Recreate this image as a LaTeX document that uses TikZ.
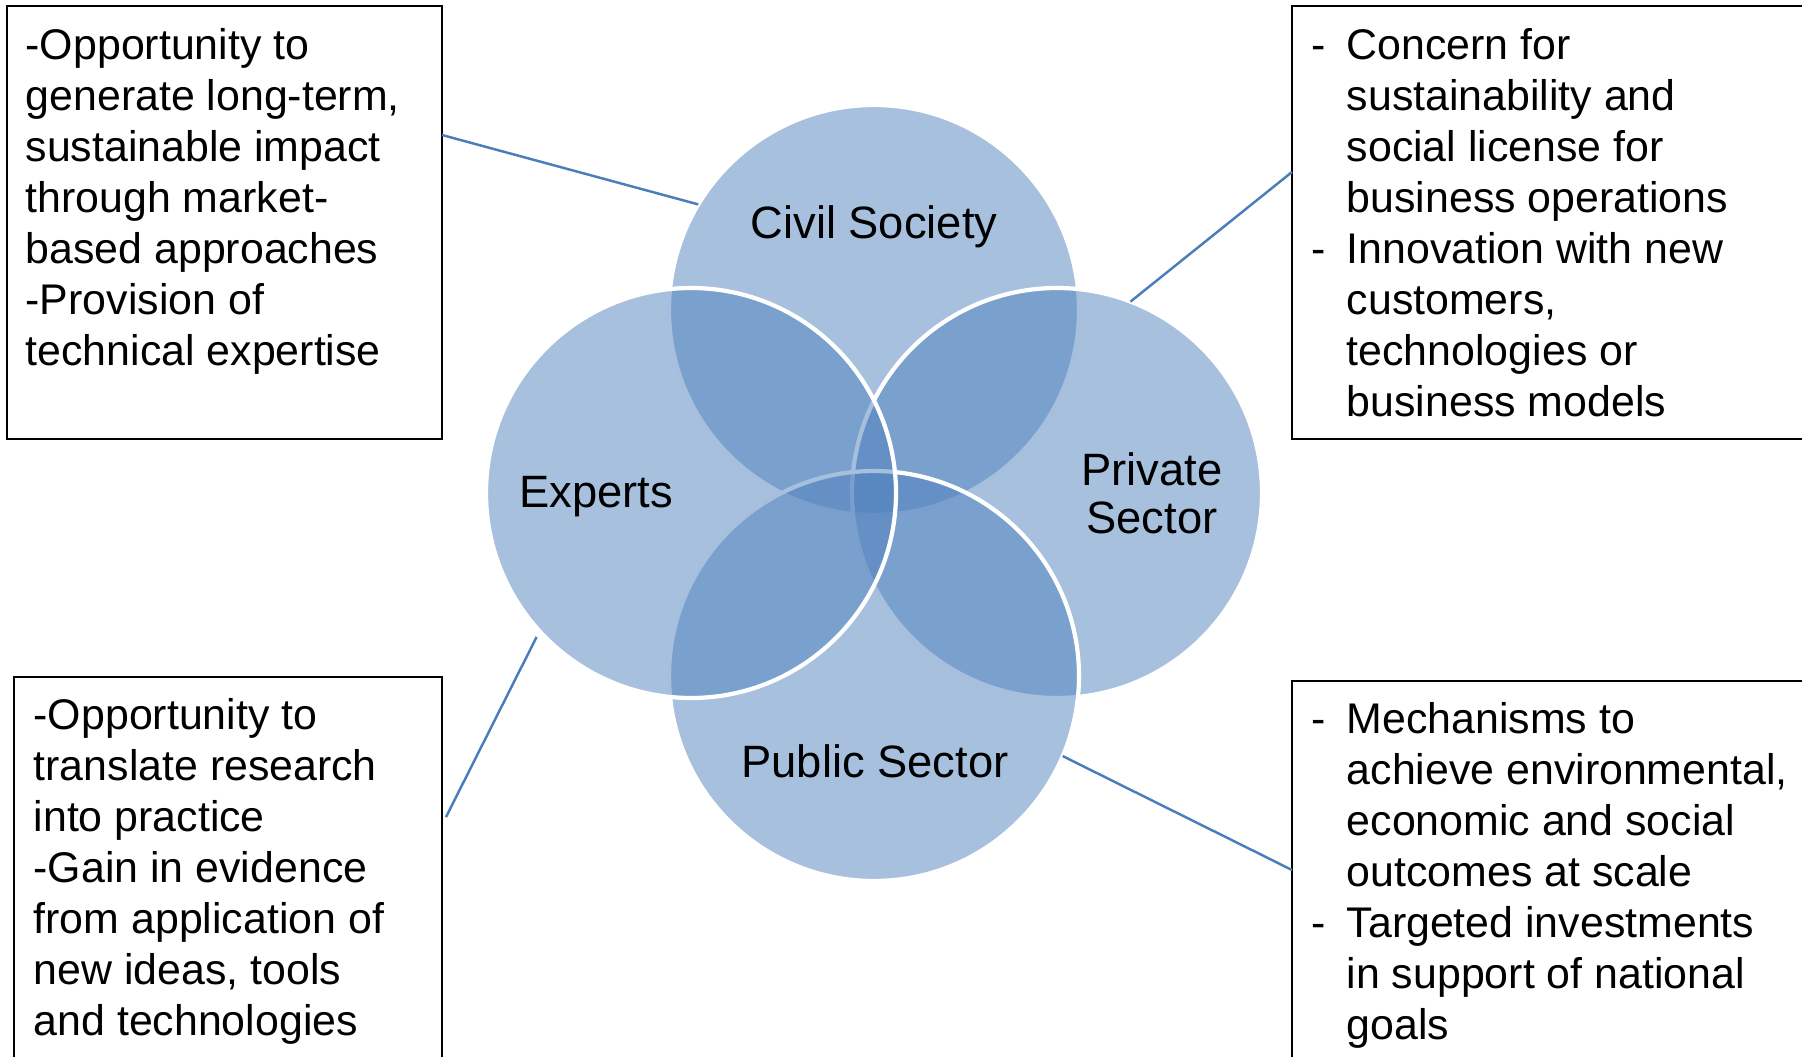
\documentclass[tikz,border=0pt]{standalone}
\usepackage{fontspec}
\setmainfont{Liberation Sans}
\usepackage{xcolor}
\usepackage{tikz}
\usetikzlibrary{calc,positioning}

\definecolor{vennblue}{HTML}{4F81BD}
\definecolor{linkblue}{HTML}{4A7EBB}

\newcommand{\dashmark}{\makebox[0.35cm][l]{-}}
\newcommand{\dashpad}{\hspace*{0.35cm}}

\begin{document}
\begin{tikzpicture}[
    venn/.style={circle, minimum size=4.1cm, inner sep=0pt, outer sep=0pt, fill=vennblue, fill opacity=0.5, draw=white, line width=1.2pt},
    lbl/.style={font=\fontsize{12.9}{13.7}\selectfont, inner sep=0pt, align=center},
    infobox/.style={draw=black, line width=0.6pt, inner sep=0pt, outer sep=0pt, anchor=north west},
    infotext/.style={anchor=north west, inner sep=0pt, align=left, font=\fontsize{12.2}{14.5}\selectfont},
    link/.style={draw=linkblue, line width=0.7pt}]
    \clip (0,0) rectangle (18.02,10.56);

    % Venn circles (drawing order matters for the white rims)
    \node[venn] (civil) at (8.74,7.46) {};
    \node[venn] (private) at (10.57,5.63) {};
    \node[venn] (public) at (8.74,3.80) {};
    \node[venn] (experts) at (6.91,5.63) {};

    % Circle labels
    \node[lbl, anchor=base] (civiltxt) at ([yshift=0.71cm]civil.center) {Civil Society};
    \node[lbl, anchor=base] (expertstxt) at ([xshift=-0.95cm, yshift=-0.14cm]experts.center) {Experts};
    \node[lbl] (privatetxt) at ([xshift=0.95cm, yshift=0.0cm]private.center) {Private\\Sector};
    \node[lbl, anchor=base] (publictxt) at ([xshift=0.01cm, yshift=-1.01cm]public.center) {Public Sector};

    % Text boxes
    \node[infobox, minimum width=4.35cm, minimum height=4.33cm] (tlbox) at (0.07,10.50) {};
    \node[infobox, minimum width=5.6cm, minimum height=4.33cm] (trbox) at (12.92,10.50) {};
    \node[infobox, minimum width=4.28cm, minimum height=4.3cm] (blbox) at (0.14,3.79) {};
    \node[infobox, minimum width=5.6cm, minimum height=4.3cm] (brbox) at (12.92,3.75) {};

    \node[infotext] (tltxt) at ([xshift=0.18cm, yshift=-0.22cm]tlbox.north west)
        {-Opportunity to\\generate long-term,\\sustainable impact\\through market-\\based approaches\\-Provision of\\technical expertise};
    \node[infotext] (trtxt) at ([xshift=0.19cm, yshift=-0.22cm]trbox.north west)
        {\dashmark Concern for\\\dashpad sustainability and\\\dashpad social license for\\\dashpad business operations\\\dashmark Innovation with new\\\dashpad customers,\\\dashpad technologies or\\\dashpad business models};
    \node[infotext] (bltxt) at ([xshift=0.19cm, yshift=-0.21cm]blbox.north west)
        {-Opportunity to\\translate research\\into practice\\-Gain in evidence\\from application of\\new ideas, tools\\and technologies};
    \node[infotext] (brtxt) at ([xshift=0.19cm, yshift=-0.21cm]brbox.north west)
        {\dashmark Mechanisms to\\\dashpad achieve environmental,\\\dashpad economic and social\\\dashpad outcomes at scale\\\dashmark Targeted investments\\\dashpad in support of national\\\dashpad goals};

    % Connectors
    \draw[link] ([yshift=-1.29cm]tlbox.north east) -- (civil.149);
    \draw[link] ([yshift=-1.66cm]trbox.north west) -- (private.69);
    \draw[link] ([xshift=0.04cm, yshift=-1.40cm]blbox.north east) -- ($(experts.center)!1.03!(experts.223)$);
    \draw[link] ([yshift=-1.89cm]brbox.north west) -- (public.337);
\end{tikzpicture}
\end{document}
